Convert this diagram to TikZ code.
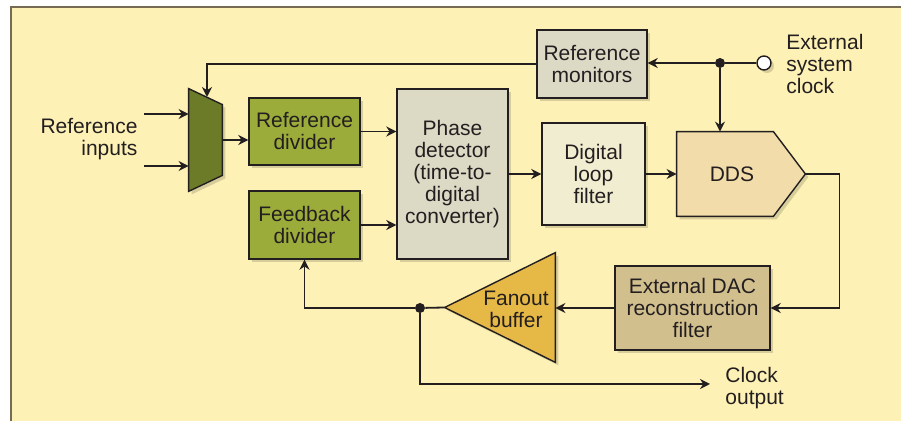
\documentclass[tikz,border=0pt]{standalone}
\usepackage{fontspec}
\setmainfont{Liberation Sans}
\usetikzlibrary{positioning,arrows.meta,shadows,calc}

\definecolor{paper}{HTML}{FDF1B5}
\definecolor{frame}{HTML}{756B52}
\definecolor{ink}{HTML}{231F20}
\definecolor{muxgreen}{HTML}{6B7B28}
\definecolor{divgreen}{HTML}{9BAC3A}
\definecolor{grey}{HTML}{DCD9C5}
\definecolor{filt}{HTML}{F1EDD0}
\definecolor{ddsfill}{HTML}{F2DDAA}
\definecolor{dacfill}{HTML}{D2BF8E}
\definecolor{fanfill}{HTML}{E6B846}

\begin{document}
\begin{tikzpicture}[x=0.5pt,y=-0.5pt,
    font=\fontsize{10.5}{11}\selectfont, text=ink,
    shade/.style={drop shadow={shadow xshift=1.5pt, shadow yshift=-1.5pt, fill=black, opacity=0.15}},
    block/.style={draw=ink, line width=0.7pt, align=center, inner sep=0pt, shade},
    outline/.style={draw=ink, line width=0.7pt, shade},
    ghost/.style={inner sep=0pt},
    lbl/.style={align=center, inner sep=0pt},
    wire/.style={draw=ink, line width=0.9pt},
    arr/.style={wire, -{Stealth[length=5pt,width=5pt]}},
    dot/.style={circle, fill=ink, inner sep=0pt, minimum size=5pt}]

    % Frame
    \useasboundingbox (0,0) rectangle (901,421);
    \fill[paper] (11,7) rectangle (901,421);
    \draw[frame, line width=1.2pt] (11,421) -- (11,7) -- (901,7);

    % Multiplexer
    \node[ghost, minimum width=16.5pt, minimum height=51pt] (mux) at (205.5,140) {};
    \draw[outline, fill=muxgreen] (mux.north west) -- ($(mux.north east)+(0,16)$)
        -- ($(mux.south east)+(0,-16)$) -- (mux.south west) -- cycle;

    % Blocks
    \node[block, fill=divgreen, minimum width=55.5pt, minimum height=33.5pt] (refdiv) at (304.5,131.5) {Reference\\divider};
    \node[block, fill=divgreen, minimum width=55.5pt, minimum height=34pt] (fbdiv) at (304.5,225) {Feedback\\divider};
    \node[block, fill=grey, minimum width=55.5pt, minimum height=85pt] (phase) at (452.5,174) {Phase\\detector\\(time-to-\\digital\\converter)};
    \node[block, fill=filt, minimum width=51.5pt, minimum height=51pt] (dlf) at (593.5,174) {Digital\\loop\\filter};
    \node[block, fill=grey, minimum width=55pt, minimum height=34pt] (refmon) at (592,64) {Reference\\monitors};
    \node[block, fill=dacfill, minimum width=77.5pt, minimum height=42pt] (dac) at (692.5,308) {External DAC\\reconstruction\\filter};

    % DDS
    \node[ghost, minimum width=64pt, minimum height=42pt] (dds) at (741,174) {};
    \draw[outline, fill=ddsfill] (dds.north west) -- ($(dds.north east)+(-32,0)$) -- (dds.east)
        -- ($(dds.south east)+(-32,0)$) -- (dds.south west) -- cycle;
    \node[lbl] (ddslbl) at (732,174) {DDS};

    % Fanout buffer
    \node[ghost, minimum width=55pt, minimum height=54.5pt] (fan) at (500,307.5) {};
    \draw[outline, fill=fanfill] (fan.west) -- (fan.north east) -- (fan.south east) -- cycle;
    \node[lbl] (fanlbl) at (516,309) {Fanout\\buffer};

    % Clock source and junctions
    \node[circle, draw=ink, fill=white, line width=0.7pt, inner sep=0pt, minimum size=7pt, shade] (extclk) at (764,63) {};
    \node[dot] (j1) at (720,63) {};
    \node[dot] (j2) at (420,308) {};
    \coordinate (muxtop) at (207,97);
    \coordinate (clkout) at (710,384);

    % Labels
    \node[lbl, align=right] (reflbl) at (89,139) {Reference\\inputs};
    \node[lbl, align=left, anchor=west] (extlbl) at (786,64) {External\\system\\clock};
    \node[lbl, align=left, anchor=west] (outlbl) at (725,388) {Clock\\output};

    % Inputs
    \foreach \n/\yy in {in1/114, in2/166} {
        \coordinate (\n) at (144,\yy);
        \draw[arr] (\n) -- (\n -| mux.west);
    }

    % Forward path
    \draw[arr] (mux.east) -- (mux.east -| refdiv.west);
    \draw[arr] (refdiv.east) -- (refdiv.east -| phase.west);
    \draw[arr] (fbdiv.east) -- (fbdiv.east -| phase.west);
    \draw[arr] (phase.east) -- (phase.east -| dlf.west);
    \draw[arr] (dlf.east) -- (dlf.east -| dds.west);
    \draw[arr] (dds.east) -- ++(34,0) |- (dac.east);
    \draw[arr] (dac.west) -- (dac.west -| fan.east);

    % System clock
    \draw[wire] (extclk) -- (j1);
    \draw[arr] (j1) -- (j1 -| refmon.east);
    \draw[arr] (j1) -- (j1 |- dds.north);
    \draw[arr] (refmon.west) -| (muxtop);

    % Output and feedback
    \draw[wire] (fan.west) -- (j2);
    \draw[arr] (j2) -| (fbdiv.south);
    \draw[arr] (j2) |- (clkout);
\end{tikzpicture}
\end{document}
